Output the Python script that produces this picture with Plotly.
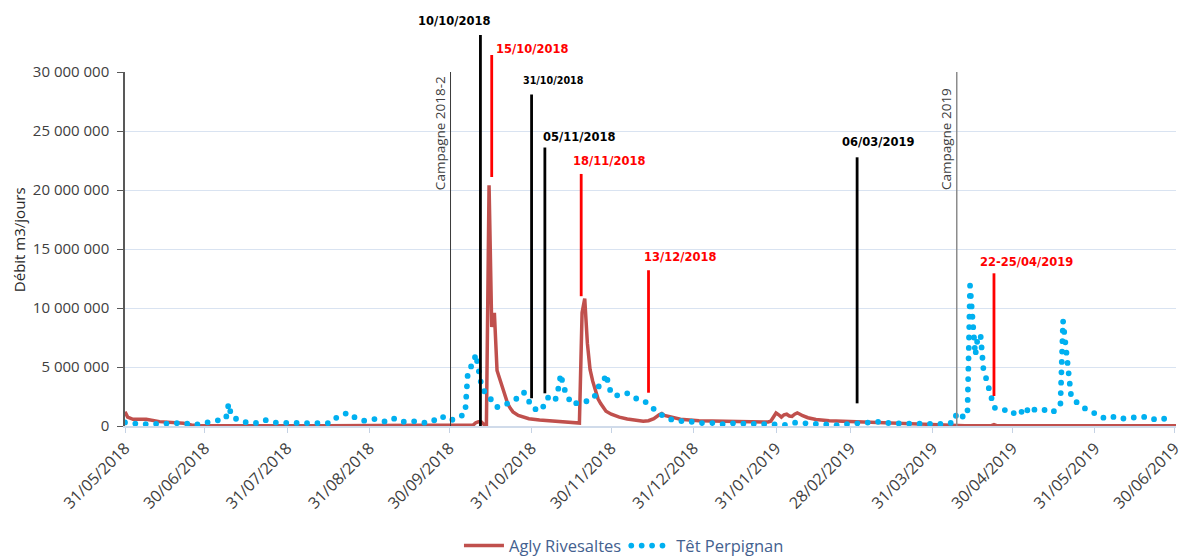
import plotly.graph_objects as go

# ---------------- data (values in millions of m3 / day) ----------------
agly_dates = [
    "2018-05-31", "2018-06-01", "2018-06-03", "2018-06-08", "2018-06-13", "2018-06-18",
    "2018-06-22", "2018-06-25", "2018-06-28", "2018-08-15", "2018-10-04", "2018-10-09",
    "2018-10-10", "2018-10-11", "2018-10-12", "2018-10-13", "2018-10-14", "2018-10-15",
    "2018-10-16", "2018-10-17", "2018-10-18", "2018-10-19", "2018-10-20", "2018-10-21",
    "2018-10-22", "2018-10-23", "2018-10-24", "2018-10-26", "2018-10-28", "2018-10-30",
    "2018-11-03", "2018-11-06", "2018-11-10", "2018-11-15", "2018-11-18", "2018-11-19",
    "2018-11-20", "2018-11-21", "2018-11-22", "2018-11-23", "2018-11-24", "2018-11-25",
    "2018-11-26", "2018-11-27", "2018-11-28", "2018-11-30", "2018-12-03", "2018-12-06",
    "2018-12-10", "2018-12-12", "2018-12-14", "2018-12-16", "2018-12-18", "2018-12-19",
    "2018-12-20", "2018-12-22", "2018-12-26", "2019-01-02", "2019-01-10", "2019-01-20",
    "2019-01-28", "2019-01-29", "2019-01-30", "2019-01-31", "2019-02-01", "2019-02-02",
    "2019-02-03", "2019-02-04", "2019-02-05", "2019-02-06", "2019-02-07", "2019-02-08",
    "2019-02-09", "2019-02-10", "2019-02-12", "2019-02-15", "2019-02-20", "2019-03-01",
    "2019-03-10", "2019-03-20", "2019-03-31", "2019-04-08", "2019-04-12", "2019-04-22",
    "2019-04-23", "2019-04-24", "2019-07-01",
]
agly_values = [
    1.2, 0.75, 0.57, 0.57, 0.37, 0.28,
    0.23, 0.08, 0.03, 0.03, 0.03, 0.08,
    0.28, 0.36, 0.36, 0.15, 0.15, 20.4,
    8.4, 9.6, 4.7, 4.0, 3.3, 2.5,
    1.9, 1.5, 1.2, 0.9, 0.72, 0.62,
    0.5, 0.45, 0.36, 0.25, 0.25, 9.6,
    10.8, 7.0, 4.8, 3.8, 2.9, 2.3,
    1.9, 1.5, 1.25, 1.0, 0.75, 0.6,
    0.45, 0.4, 0.45, 0.62, 0.95, 1.05,
    0.9, 0.8, 0.57, 0.45, 0.40, 0.35,
    0.34, 0.40, 0.70, 1.10, 0.95, 0.75,
    0.95, 1.00, 0.85, 0.82, 1.00, 1.10,
    1.00, 0.87, 0.70, 0.55, 0.45, 0.38,
    0.30, 0.25, 0.17, 0.08, 0.03, 0.03,
    0.12, 0.03, 0.03,
]

tet_dates = [
    "2018-05-31", "2018-06-02", "2018-06-06", "2018-06-10", "2018-06-14", "2018-06-18",
    "2018-06-22", "2018-06-26", "2018-06-30", "2018-07-04", "2018-07-07", "2018-07-08",
    "2018-07-09", "2018-07-10", "2018-07-13", "2018-07-17", "2018-07-21", "2018-07-23",
    "2018-07-27", "2018-07-31", "2018-08-04", "2018-08-08", "2018-08-12", "2018-08-16",
    "2018-08-19", "2018-08-23", "2018-08-26", "2018-08-29", "2018-09-02", "2018-09-06",
    "2018-09-09", "2018-09-12", "2018-09-16", "2018-09-20", "2018-09-23", "2018-09-27",
    "2018-09-30", "2018-10-03", "2018-10-06", "2018-10-07", "2018-10-08", "2018-10-09",
    "2018-10-10", "2018-10-11", "2018-10-12", "2018-10-13", "2018-10-14", "2018-10-15",
    "2018-10-16", "2018-10-17", "2018-10-18", "2018-10-21", "2018-10-25", "2018-10-28",
    "2018-10-29", "2018-10-31", "2018-11-02", "2018-11-04", "2018-11-05", "2018-11-07",
    "2018-11-09", "2018-11-10", "2018-11-11", "2018-11-12", "2018-11-13", "2018-11-14",
    "2018-11-15", "2018-11-18", "2018-11-22", "2018-11-24", "2018-11-25", "2018-11-27",
    "2018-11-28", "2018-11-29", "2018-11-30", "2018-12-02", "2018-12-04", "2018-12-06",
    "2018-12-09", "2018-12-12", "2018-12-15", "2018-12-18", "2018-12-21", "2018-12-25",
    "2018-12-29", "2019-01-02", "2019-01-06", "2019-01-10", "2019-01-14", "2019-01-18",
    "2019-01-22", "2019-01-26", "2019-01-30", "2019-02-03", "2019-02-07", "2019-02-11",
    "2019-02-15", "2019-02-19", "2019-02-23", "2019-02-27", "2019-03-03", "2019-03-07",
    "2019-03-11", "2019-03-15", "2019-03-19", "2019-03-23", "2019-03-27", "2019-03-31",
    "2019-04-04", "2019-04-08", "2019-04-09", "2019-04-11", "2019-04-13", "2019-04-14",
    "2019-04-15", "2019-04-16", "2019-04-17", "2019-04-18", "2019-04-19", "2019-04-20",
    "2019-04-21", "2019-04-22", "2019-04-23", "2019-04-24", "2019-04-27", "2019-04-30",
    "2019-05-02", "2019-05-05", "2019-05-06", "2019-05-09", "2019-05-12", "2019-05-15",
    "2019-05-17", "2019-05-18", "2019-05-19", "2019-05-20", "2019-05-21", "2019-05-22",
    "2019-05-23", "2019-05-25", "2019-05-28", "2019-05-31", "2019-06-03", "2019-06-06",
    "2019-06-09", "2019-06-13", "2019-06-16", "2019-06-20", "2019-06-23", "2019-06-27",
]
tet_values = [
    0.30, 0.23, 0.15, 0.17, 0.23, 0.25,
    0.25, 0.08, 0.31, 0.45, 0.55, 0.65,
    1.9, 0.85, 0.45, 0.23, 0.28, 0.50,
    0.28, 0.28, 0.28, 0.30, 0.30, 0.23,
    0.79, 1.13, 0.65, 0.45, 0.59, 0.36,
    0.65, 0.34, 0.42, 0.28, 0.30, 0.85,
    0.45, 0.65, 1.05, 4.5, 5.0, 5.2,
    6.1, 4.8, 3.6, 3.0, 2.6, 2.4,
    2.2, 1.9, 1.6, 1.8, 2.26, 2.86,
    2.6, 1.6, 1.36, 1.36, 2.1, 2.6,
    2.26, 3.1, 4.4, 3.3, 2.8, 2.1,
    1.84, 2.0, 2.15, 2.6, 3.3, 3.7,
    4.4, 3.5, 2.7, 2.6, 2.6, 2.77,
    2.35, 2.2, 1.58, 1.07, 0.65, 0.42,
    0.42, 0.23, 0.28, 0.14, 0.23, 0.23,
    0.23, 0.23, 0.14, 0.08, 0.28, 0.23,
    0.17, 0.17, 0.08, 0.17, 0.23, 0.36,
    0.36, 0.23, 0.23, 0.14, 0.14, 0.14,
    0.17, 0.30, 1.13, 0.80, 0.85, 11.9,
    8.1, 6.0, 7.7, 7.6, 4.9, 4.0,
    3.2, 2.4, 1.6, 1.44, 1.36, 1.0,
    1.44, 0.93, 1.64, 1.3, 1.36, 1.13,
    1.64, 1.8, 8.9, 6.5, 4.0, 2.6,
    2.2, 1.84, 1.36, 1.07, 0.70, 0.85,
    0.59, 0.70, 0.79, 0.79, 0.50, 0.65,
]

series_names = ["Agly Rivesaltes", "Têt Perpignan"]

y_tick_values = [0, 5e6, 10e6, 15e6, 20e6, 25e6, 30e6]
y_tick_labels = ["0", "5 000 000", "10 000 000", "15 000 000", "20 000 000", "25 000 000", "30 000 000"]

x_tick_dates = ["2018-05-31", "2018-06-30", "2018-07-31", "2018-08-31", "2018-09-30", "2018-10-31",
                "2018-11-30", "2018-12-31", "2019-01-31", "2019-02-28", "2019-03-31", "2019-04-30",
                "2019-05-31", "2019-06-30"]
x_tick_labels = ["31/05/2018", "30/06/2018", "31/07/2018", "31/08/2018", "30/09/2018", "31/10/2018",
                 "30/11/2018", "31/12/2018", "31/01/2019", "28/02/2019", "31/03/2019", "30/04/2019",
                 "31/05/2019", "30/06/2019"]

# sampling events (vertical markers): date, label, colour, bottom / top in m3
event_dates = ["2018-10-11 18:00", "2018-10-16", "2018-10-31", "2018-11-05",
               "2018-11-18 16:00", "2018-12-14", "2019-03-02 12:00", "2019-04-23"]
event_labels = ["10/10/2018", "15/10/2018", "31/10/2018", "05/11/2018",
                "18/11/2018", "13/12/2018", "06/03/2019", "22-25/04/2019"]
event_colors = ["#000000", "#FF0000", "#000000", "#000000", "#FF0000", "#FF0000", "#000000", "#FF0000"]
event_low = [0, 21.1e6, 2.35e6, 2.77e6, 11.0e6, 2.82e6, 1.92e6, 2.54e6]
event_high = [33.14e6, 31.44e6, 28.1e6, 23.6e6, 21.36e6, 13.2e6, 22.77e6, 12.94e6]
event_label_y = [34.35e6, 31.92e6, 29.32e6, 24.47e6, 22.46e6, 14.3e6, 24.04e6, 13.92e6]
event_label_dx = [-26, 40, 22, 34, 28, 31, 21, 33]
event_label_size = [11.5, 11.5, 9.6, 11.5, 11.5, 11.5, 11.5, 11.5]

campaign_dates = ["2018-09-30 12:00", "2019-04-09"]
campaign_labels = ["Campagne 2018-2", "Campagne 2019"]
campaign_colors = ["#3A3A3A", "#8C8C8C"]
campaign_widths = [1, 1.5]
campaign_label_y = [0.826, 0.81]

YMAX = 30e6

# ---------------- figure ----------------
fig = go.Figure()
fig.add_trace(go.Scatter(
    x=agly_dates, y=[v * 1e6 for v in agly_values], name=series_names[0], mode="lines",
    line=dict(color="#C0504D", width=3.5), hoverinfo="skip"))
fig.add_trace(go.Scatter(
    x=tet_dates, y=[v * 1e6 for v in tet_values], name=series_names[1], mode="lines",
    line=dict(color="#00B0F0", width=5.8, dash="2px,8.4px"), hoverinfo="skip"))

shapes = []
annotations = []
for d, lab, col, w, ly in zip(campaign_dates, campaign_labels, campaign_colors, campaign_widths, campaign_label_y):
    shapes.append(dict(type="line", xref="x", yref="paper", x0=d, x1=d, y0=0, y1=1,
                       line=dict(color=col, width=w), layer="above"))
    annotations.append(dict(x=d, xref="x", y=ly, yref="paper", text=lab, textangle=-90,
                            showarrow=False, xanchor="center", yanchor="middle", xshift=-11,
                            font=dict(family="Open Sans", size=13.5, color="#404040")))

for d, lab, col, lo, hi, ly, dx, fs in zip(event_dates, event_labels, event_colors, event_low,
                                           event_high, event_label_y, event_label_dx, event_label_size):
    shapes.append(dict(type="line", xref="x", yref="paper", x0=d, x1=d, y0=lo / YMAX, y1=hi / YMAX,
                       line=dict(color=col, width=2.8), layer="above"))
    annotations.append(dict(x=d, xref="x", y=ly / YMAX, yref="paper", text="<b>%s</b>" % lab,
                            showarrow=False, xanchor="center", yanchor="middle", xshift=dx,
                            font=dict(family="DejaVu Sans", size=fs, color=col)))

annotations.append(dict(x=0, xref="paper", y=0.525, yref="paper", text="Débit m3/jours", textangle=-90,
                        showarrow=False, xanchor="center", yanchor="middle", xshift=-106,
                        font=dict(family="Open Sans", size=15, color="#262626")))

fig.update_layout(
    width=1184, height=557,
    margin=dict(l=125, r=8, t=72, b=131, autoexpand=False),
    paper_bgcolor="white", plot_bgcolor="white",
    font=dict(family="Open Sans", size=15, color="#404040"),
    shapes=shapes, annotations=annotations,
    showlegend=True,
    legend=dict(orientation="h", xref="container", yref="container", x=0.527, xanchor="center",
                y=0.02, yanchor="middle",
                font=dict(family="Open Sans", size=16.5, color="#44618F"), itemwidth=40),
    xaxis=dict(type="date", range=["2018-05-31", "2019-06-30 12:00"], tickmode="array",
               tickvals=x_tick_dates, ticktext=x_tick_labels, tickangle=-45,
               tickfont=dict(family="Open Sans", size=16, color="#404040"),
               showgrid=False, showline=True, linecolor="#D0DBEA", linewidth=1.5,
               ticks="outside", ticklen=5, tickcolor="#C5D2E4", zeroline=False,
               automargin=False, ticklabeloverflow="allow"),
    yaxis=dict(range=[0, YMAX], tickmode="array", tickvals=y_tick_values, ticktext=y_tick_labels,
               tickfont=dict(family="Open Sans", size=15, color="#404040"),
               showgrid=True, gridcolor="#D9E3F1", gridwidth=1.3,
               showline=True, linecolor="#595959", linewidth=1.5,
               ticks="outside", ticklen=6, tickcolor="#595959", zeroline=False,
               ticklabelstandoff=5, automargin=False),
)

post = """
var gd = document.getElementById('{plot_id}');
function dotify(){
  var sel = [];
  var tr = gd.querySelectorAll('.scatterlayer .trace');
  if (tr.length > 1) { sel = sel.concat(Array.from(tr[1].querySelectorAll('path.js-line'))); }
  var lg = gd.querySelectorAll('.legend .traces');
  if (lg.length > 1) { sel = sel.concat(Array.from(lg[1].querySelectorAll('path.js-line'))); }
  sel.forEach(function(p){ p.style.strokeLinecap = 'round'; p.style.strokeDasharray = '0 10.4'; });
}
dotify();
gd.on('plotly_afterplot', dotify);
"""

fig.write_html("out.html", post_script=post)
